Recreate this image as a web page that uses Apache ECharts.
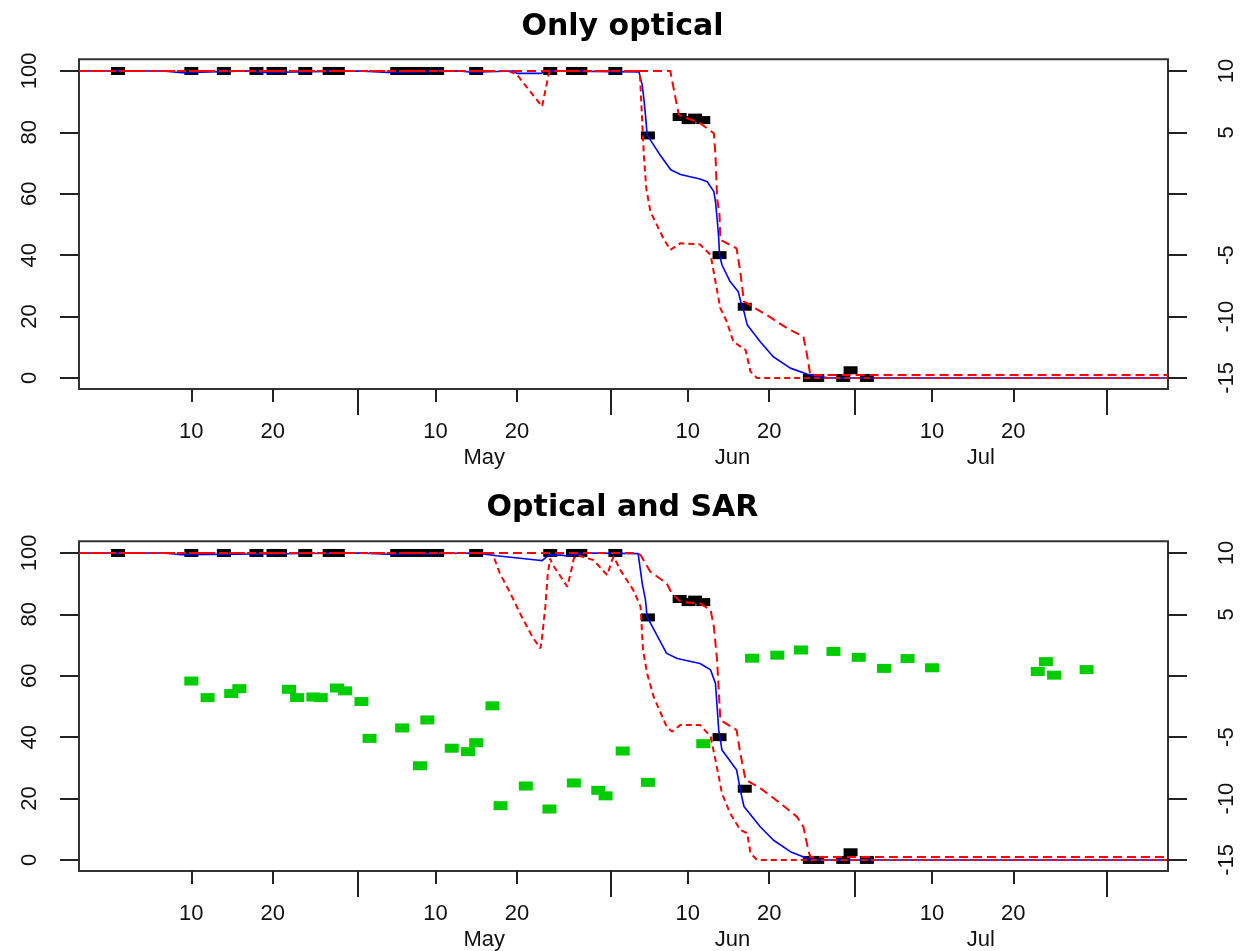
<!DOCTYPE html>
<html><head><meta charset="utf-8">
<script src="https://cdn.jsdelivr.net/npm/echarts@6/dist/echarts.min.js"></script>
<style>html,body{margin:0;padding:0;background:#fff}#c{width:1245px;height:951px}</style>
</head><body><div id="c"></div>
<script>
// ---- axis / tick definitions (day of year) ----
const titles = ['Only optical', 'Optical and SAR'];
const monthStarts = [120.5, 151.5, 181.5, 212.5];
const dayTicks = [100, 110, 130, 140, 161, 171, 191, 201];
const dayTickLabels = ['10', '20', '10', '20', '10', '20', '10', '20'];
const monthMids = [136, 166.5, 197];
const monthNames = ['May', 'Jun', 'Jul'];
const leftTicks = [0, 20, 40, 60, 80, 100];
const rightTicks = [-15, -10, -5, 0, 5, 10];
const rightLabelTicks = [-15, -10, -5, 5, 10];

// ---- black observations (optical), both panels ----
const blackDays = [91, 100, 104, 108, 110.1, 110.9, 114, 117, 118, 125.3, 126.9, 128.5, 130.2, 135, 144.1, 146.9, 147.8, 152.1, 156.1, 160, 161.1, 161.9, 162.9, 164.9, 168, 176, 176.9, 180.1, 181, 183];
const blackVals = [100, 100, 100, 100, 100, 100, 100, 100, 100, 100, 100, 100, 100, 100, 100, 100, 100, 100, 79, 85, 84, 84.8, 84, 40, 23.2, 0, 0, 0, 2.5, 0];

// ---- green observations (SAR, dB on right axis), panel 2 ----
const greenDays = [100, 102, 104.9, 105.9, 112, 113, 115, 115.9, 117.9, 118.9, 120.9, 121.9, 125.9, 128.1, 129, 132, 134, 135, 137, 138, 141.1, 144, 147, 150, 150.9, 153, 156.1, 162.9, 168.9, 172, 174.9, 178.9, 182, 185.1, 188, 191, 204, 205, 206, 210];
const greenDb = [-0.43, -1.78, -1.45, -1.05, -1.1, -1.78, -1.73, -1.78, -1.0, -1.23, -2.1, -5.1, -4.25, -7.33, -3.6, -5.9, -6.18, -5.45, -2.45, -10.58, -8.98, -10.85, -8.73, -9.33, -9.78, -6.13, -8.68, -5.53, 1.43, 1.68, 2.1, 1.98, 1.5, 0.6, 1.4, 0.65, 0.35, 1.15, 0.05, 0.5];

// ---- panel 1 curves ----
const p1MedDays = [86.2, 96.5, 96.7, 98.8, 99, 106.8, 107, 108.9, 109.1, 120.5, 120.7, 124.2, 124.4, 133, 133.2, 134.4, 134.6, 139.5, 140, 143, 143.5, 155.0, 155.4, 155.6, 155.8, 156.0, 157.6, 158.9, 160.1, 162.5, 163.4, 164.2, 164.4, 164.6, 164.8, 164.9, 165.2, 166.2, 167.2, 167.5, 167.9, 168.3, 169.9, 171.5, 173.6, 175.7, 177.3, 178.5, 220];
const p1MedVals = [100, 100, 99.4, 99.4, 100, 100, 99.5, 99.5, 100, 100, 99.5, 99.5, 100, 100, 99.6, 99.6, 100, 100, 99.2, 99.2, 100, 99.7, 95.4, 91, 85.7, 79.2, 72.6, 67.8, 66.3, 64.8, 63.9, 60.7, 57.4, 52, 45.5, 40.1, 36.8, 31.4, 28.1, 24.9, 21.6, 17.3, 11.8, 6.9, 3.2, 1.2, 0.4, 0, 0];
const p1UpDays = [86.2, 158.85, 159.5, 159.9, 162.5, 164.2, 164.4, 164.6, 164.9, 165.0, 167.0, 167.45, 167.9, 170.7, 173.2, 175.2, 175.65, 176.05, 220];
const p1UpVals = [100, 100, 91, 85.7, 83, 79.7, 72.6, 58.5, 53, 45, 42.2, 34.6, 24.9, 20.5, 16.2, 13.5, 7.5, 1, 1];
const p1LoDays = [86.2, 139.0, 140.0, 143.1, 143.9, 144.1, 155.1, 155.4, 155.6, 155.9, 156.4, 158.0, 158.85, 160.1, 162.5, 163.8, 164.4, 165.0, 165.8, 166.6, 168.1, 168.7, 169.5, 220];
const p1LoVals = [100, 100, 98.8, 88.4, 98.8, 100, 100, 83.5, 72.6, 61.8, 54.2, 45.5, 41.7, 43.9, 43.5, 40.1, 31.4, 22.7, 18.3, 11.8, 9.1, 2.1, 0, 0];

// ---- panel 2 curves ----
const p2MedDays = [86.2, 96.5, 96.7, 98.8, 99, 120.5, 120.7, 124.2, 124.4, 135, 137.5, 142.4, 143.1, 143.9, 145.4, 146.2, 147.4, 148.5, 154.9, 155.4, 155.8, 156.0, 158.4, 159.7, 162.5, 163.8, 164.4, 164.6, 164.8, 165.0, 165.2, 167.0, 167.45, 167.9, 169.9, 171.5, 173.6, 175.7, 177, 220];
const p2MedVals = [100, 100, 99.4, 99.4, 100, 100, 99.6, 99.6, 100, 100, 99.1, 97.7, 97.5, 99.3, 99.3, 99, 99.6, 100, 99.8, 90.1, 84.7, 79.2, 67.3, 65.6, 64, 61.9, 57.5, 49.9, 42.3, 39.1, 35.8, 29.3, 22.8, 17.4, 10.8, 6.5, 2.7, 0.5, 0, 0];
const p2UpDays = [86.2, 154.8, 155.2, 156.4, 158.4, 159.05, 160.1, 162.5, 163.8, 164.2, 164.6, 164.8, 165.0, 167.0, 167.45, 168.1, 169.9, 172.4, 174.4, 175.2, 175.8, 176.05, 220];
const p2UpVals = [100, 100, 99.3, 93.9, 90.1, 86.8, 84.1, 83.6, 81.4, 76, 65.1, 55.4, 45.6, 42.3, 34.7, 26.1, 23.4, 18.4, 14.1, 10.8, 3.3, 1, 1];
const p2LoDays = [86.2, 137.1, 137.3, 137.9, 139.2, 140.6, 141.9, 142.9, 143.1, 143.5, 143.8, 144.1, 144.3, 144.5, 146.2, 146.6, 147.0, 147.4, 149.4, 151.1, 151.7, 151.9, 152.7, 154.3, 155.2, 155.5, 156.0, 156.8, 158.4, 159.05, 160.1, 162.5, 163.8, 164.4, 165.2, 166.2, 167.45, 168.3, 168.7, 169.5, 220];
const p2LoVals = [100, 100, 97.7, 93.4, 86.9, 79.2, 72.7, 68.9, 72.7, 82.5, 93.4, 98.2, 96.6, 96.6, 89, 93.4, 98.2, 99.3, 97.7, 92.8, 97.7, 98.8, 94.5, 87.9, 82.5, 68.4, 60.8, 53.2, 43.4, 41.8, 44, 44, 40.2, 32.6, 21.7, 15.2, 9.8, 8.7, 2.2, 0, 0];

const XMIN = 86.2, XMAX = 220;
const LMIN = -3.6, LMAX = 103.8;
const RMIN = -15 + LMIN / 4, RMAX = -15 + LMAX / 4;

const zip = (a, b) => a.map((v, i) => [v, b[i]]);
const tickStyle = {color: '#222', width: 2};

const gridTops = [59.3, 541.3];
const gridH = 329.7;

const grids = gridTops.map(t => ({left: 79, width: 1089, top: t, height: gridH, show: true,
  containLabel: false, outerBoundsMode: 'none',
  borderColor: '#333', borderWidth: 2}));

// per grid: x axes [0]=day ticks, [1]=month ticks, [2]=day labels, [3]=month labels
// y axes [0]=left ticks+data, [1]=right ticks+data, [2]=left labels, [3]=right labels
const NX = 4, NY = 4;
const xAxes = [], yAxes = [];
function tickAxis(extra, vals, len) {
  return Object.assign({}, extra, {
    axisTick: {show: true, customValues: vals, length: len, lineStyle: tickStyle},
    axisLabel: {show: false}});
}
function labelAxis(extra, vals, names, margin, rotate) {
  const lab = {customValues: vals, margin: margin, color: '#111', fontSize: 22};
  if (rotate) lab.rotate = rotate;
  if (names) lab.formatter = v => names[vals.indexOf(v)];
  return Object.assign({}, extra, {axisTick: {show: false}, axisLabel: lab});
}
[0, 1].forEach(g => {
  const xb = {type: 'value', gridIndex: g, min: XMIN, max: XMAX, position: 'bottom',
    axisLine: {show: false, onZero: false}, splitLine: {show: false}};
  xAxes.push(tickAxis(xb, dayTicks, 13));
  xAxes.push(tickAxis(xb, monthStarts, 26));
  xAxes.push(labelAxis(xb, dayTicks, dayTickLabels, 32));
  xAxes.push(labelAxis(xb, monthMids, monthNames, 58));
  const yl = {type: 'value', gridIndex: g, min: LMIN, max: LMAX,
    axisLine: {show: false, onZero: false}, splitLine: {show: false}};
  const yr = {type: 'value', gridIndex: g, min: RMIN, max: RMAX, position: 'right',
    axisLine: {show: false, onZero: false}, splitLine: {show: false}};
  yAxes.push(tickAxis(Object.assign({position: 'left'}, yl), leftTicks, 19));
  yAxes.push(tickAxis(yr, rightTicks, 19));
  yAxes.push(labelAxis(Object.assign({position: 'left'}, yl), leftTicks, null, 38, 90));
  yAxes.push(labelAxis(yr, rightLabelTicks, null, 48, 90));
});

function lineSeries(g, days, vals, color, width, type, z) {
  return {type: 'line', xAxisIndex: g * NX, yAxisIndex: g * NY, data: zip(days, vals),
    showSymbol: false, symbol: 'none', clip: true, z: z, silent: true,
    lineStyle: {color: color, width: width, type: type}};
}
function pointSeries(g, right, days, vals, color, size) {
  return {type: 'scatter', xAxisIndex: g * NX, yAxisIndex: g * NY + (right ? 1 : 0), data: zip(days, vals),
    symbol: 'rect', symbolSize: size, itemStyle: {color: color, opacity: 1}, z: 2, silent: true};
}

const series = [
  pointSeries(0, false, blackDays, blackVals, '#000', [14, 8]),
  lineSeries(0, p1MedDays, p1MedVals, '#0000ff', 1.6, 'solid', 3),
  lineSeries(0, p1UpDays, p1UpVals, '#ff0000', 2, [9, 5], 4),
  lineSeries(0, p1LoDays, p1LoVals, '#ff0000', 2, [6, 4], 4),
  pointSeries(1, true, greenDays, greenDb, '#00cd00', [14, 9]),
  pointSeries(1, false, blackDays, blackVals, '#000', [14, 8]),
  lineSeries(1, p2MedDays, p2MedVals, '#0000ff', 1.6, 'solid', 3),
  lineSeries(1, p2UpDays, p2UpVals, '#ff0000', 2, [9, 5], 4),
  lineSeries(1, p2LoDays, p2LoVals, '#ff0000', 2, [6, 4], 4)
];

const chart = echarts.init(document.getElementById('c'), null, {renderer: 'canvas'});
chart.setOption({
  animation: false,
  backgroundColor: '#fff',
  title: titles.map((t, i) => ({text: t, left: 'center', top: i === 0 ? 7 : 488,
    textStyle: {fontFamily: 'DejaVu Sans', fontWeight: 'bold', fontSize: 30, color: '#000'}})),
  grid: grids,
  xAxis: xAxes,
  yAxis: yAxes,
  series: series
});
</script></body></html>
